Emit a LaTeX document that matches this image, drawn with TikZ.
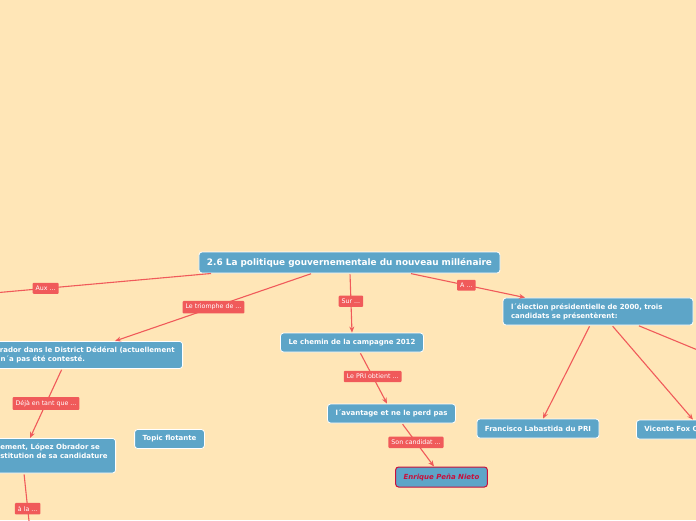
\documentclass[tikz,border=0pt]{standalone}
\usepackage{fontspec}
\setmainfont{DejaVu Sans}
\usepackage{xcolor}
\definecolor{mapbg}{HTML}{FFE6B7}
\definecolor{mapblue}{HTML}{5DA5C8}
\definecolor{mapred}{HTML}{F05A5A}
\definecolor{mapcrimson}{HTML}{C8103C}
\usepackage{tikz}
\usetikzlibrary{arrows.meta,positioning,calc}

\begin{document}
\begin{tikzpicture}[
  x=1pt, y=-1pt,
  topic/.style={draw=white,line width=0.8pt,fill=mapblue,rounded corners=3pt,
    text=white,font=\fontsize{7}{9}\selectfont\bfseries,
    inner xsep=8pt,inner ysep=5.5pt,minimum height=19pt},
  roottopic/.style={topic,font=\fontsize{8.9}{10}\selectfont\bfseries,minimum height=21pt},
  rel/.style={fill=mapred,rounded corners=1pt,text=white,
    font=\fontsize{6.3}{7}\selectfont,inner xsep=3pt,inner ysep=3.2pt},
  conn/.style={draw=mapred,line width=1.1pt,shorten <=1pt},
  arr/.style={conn,-{Stealth[length=6pt,width=5pt]}}
]
\useasboundingbox (0,0) rectangle (696,520);
\fill[mapbg] (0,0) rectangle (696,520);
\clip (0,0) rectangle (696,520);
% Central topic
\node[roottopic] (root) at (349.5,262.5) {2.6 La politique gouvernementale du nouveau millénaire};
% Left branch
\coordinate (auxend) at (-40,296);
\node[topic,anchor=north east,align=left] (lopez1) at (183,341)
  {orador dans le District Dédéral (actuellement\\) n´a pas été contesté.};
\node[topic,anchor=north east,align=left] (lopez2) at (116,438)
  {ement, López Obrador se\\stitution de sa candidature\\~};
\coordinate (alaend) at (31,540);
\node[topic] (flotante) at (169.5,439) {Topic flotante};
% Middle branch
\node[topic] (chemin) at (352,342.5) {Le chemin de la campagne 2012};
\node[topic] (avantage) at (391.5,413.5) {l´avantage et ne le perd pas};
\node[topic,draw=mapcrimson,line width=1pt,text=mapcrimson,
  font=\fontsize{7}{9}\selectfont\bfseries\itshape,minimum height=20pt] (pena) at (441.5,477) {Enrique Peña Nieto};
% Right branch
\node[topic,text width=174pt,align=left] (election) at (598,311.5)
  {l´élection présidentielle de 2000, trois\\candidats se présentèrent:};
\node[topic] (labastida) at (538,428.5) {Francisco Labastida du PRI};
\node[topic,anchor=west,text width=80pt,align=left] (fox) at (636,429.5) {Vicente Fox Q};
\coordinate (thirdend) at (740,367.5);
% Connectors
\draw[conn] ([xshift=-137.5pt]root.south) -- node[rel,pos=0.66] (aux) {Aux ...} (auxend);
\draw[arr] ([xshift=-37.5pt]root.south) -- node[rel,pos=0.5] (triomphe) {Le triomphe de ...} ([xshift=-68pt]lopez1.north east);
\draw[arr] ([xshift=-121pt]lopez1.south east) -- node[rel,pos=0.5] (deja) {Déjà en tant que ...} ([xshift=-86pt]lopez2.north east);
\draw[conn] ([xshift=-92pt]lopez2.south east) -- node[rel,pos=0.53] (ala) {à la ...} (alaend);
\draw[arr] ([xshift=0.5pt]root.south) -- node[rel,pos=0.47] (sur) {Sur ...} (chemin.north);
\draw[arr] ([xshift=8pt]chemin.south) -- node[rel,pos=0.47] (obtient) {Le PRI obtient ...} ([xshift=-4.5pt]avantage.north);
\draw[arr] ([xshift=10.5pt]avantage.south) -- node[rel,pos=0.44] (candidat) {Son candidat ...} ([xshift=-7.5pt]pena.north);
\draw[arr] ([xshift=60.5pt]root.south) -- node[rel,pos=0.49] (a) {A ...} ([xshift=-73pt]election.north);
\draw[arr] ([xshift=-8pt]election.south) -- ([xshift=5pt]labastida.north);
\draw[arr] ([xshift=14pt]election.south) -- ([xshift=57pt]fox.north west);
\draw[conn] ([xshift=40pt]election.south) -- (thirdend);
\end{tikzpicture}
\end{document}
